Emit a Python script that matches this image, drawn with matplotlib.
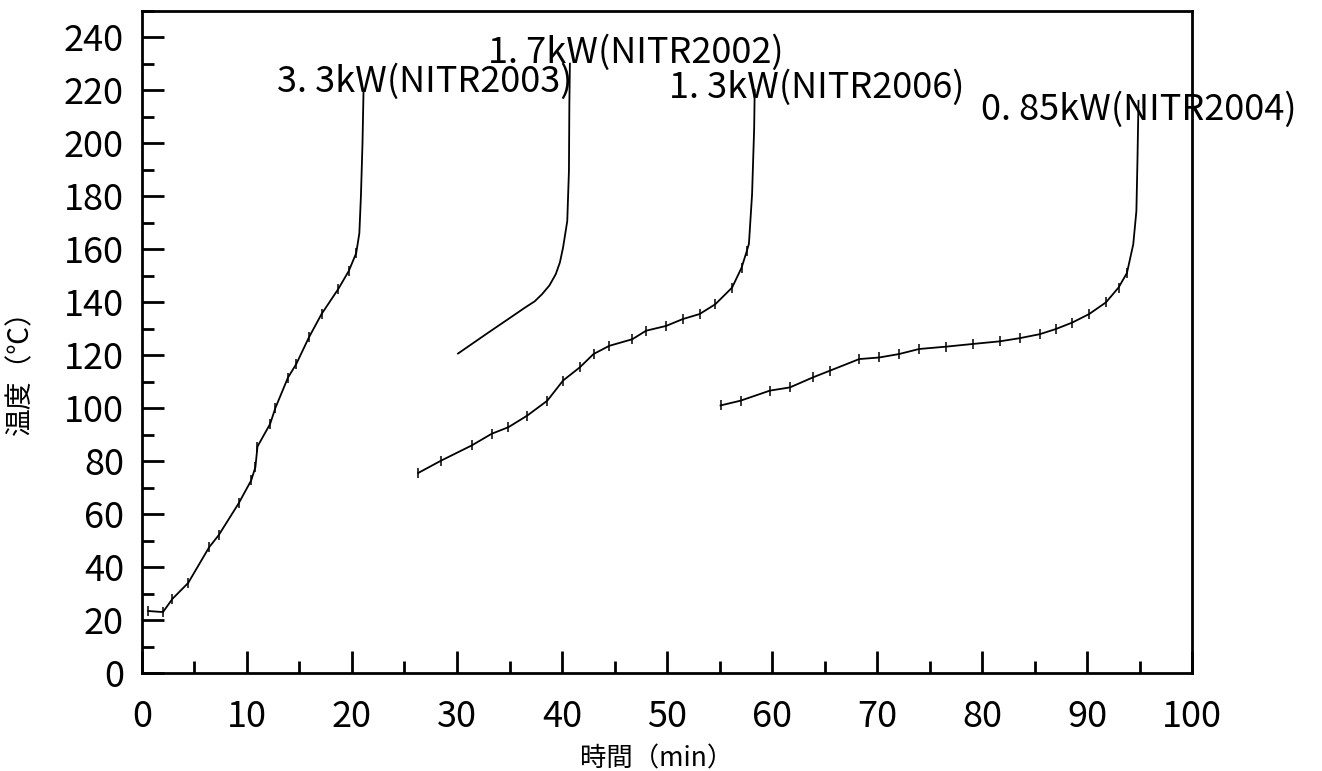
#!/usr/bin/env python3
"""Temperature rise curves for four heater powers."""
import matplotlib
matplotlib.use('Agg')
import matplotlib.pyplot as plt
from matplotlib.ticker import MultipleLocator

plt.rcParams['font.family'] = ['Noto Sans CJK JP', 'DejaVu Sans']

# 3.3 kW (NITR2003)
t33 = [0.6, 2.0, 2.9, 4.4, 6.4, 7.3, 9.2, 10.4, 10.8, 11.0, 12.2, 12.7, 13.9,
       14.7, 15.9, 17.1, 18.7, 19.7, 20.4, 20.7, 20.85, 21.0, 21.1]
T33 = [23.4, 23.0, 28.0, 34.0, 47.5, 52.0, 64.0, 72.7, 77.7, 85.5, 94.0, 100.0,
       111.5, 116.7, 126.7, 135.5, 145.0, 151.8, 158.5, 166.0, 180.0, 200.0, 220.0]

# 1.7 kW (NITR2002)
t17 = [30.1, 32.8, 35.1, 36.5, 37.4, 38.1, 38.8, 39.4, 39.8, 40.1, 40.5, 40.66, 40.7, 40.75]
T17 = [120.6, 128.0, 134.2, 138.0, 140.3, 143.0, 146.3, 150.5, 155.0, 160.6, 170.6,
       189.5, 214.6, 230.0]

# 1.3 kW (NITR2006)
t13 = [26.3, 28.5, 31.4, 33.3, 34.9, 36.7, 38.6, 40.1, 41.7, 43.0, 44.5, 46.7,
       48.0, 49.9, 51.5, 53.1, 54.6, 56.2, 57.1, 57.6, 57.8, 58.1, 58.3, 58.35]
T13 = [75.5, 80.2, 85.9, 90.3, 92.8, 97.2, 102.8, 110.4, 115.4, 120.4, 123.5,
       126.0, 129.2, 131.0, 133.6, 135.5, 139.2, 145.5, 153.0, 159.3, 162.0,
       180.7, 205.8, 220.0]

# 0.85 kW (NITR2004)
t085 = [55.1, 57.0, 59.8, 61.7, 63.9, 65.5, 68.3, 70.2, 72.1, 74.0, 76.6, 79.1,
        81.7, 83.6, 85.5, 87.0, 88.6, 90.2, 91.8, 93.0, 93.8, 94.4, 94.7, 94.8, 94.9]
T085 = [101.0, 102.8, 106.6, 107.8, 111.6, 114.1, 118.5, 119.1, 120.4, 122.3,
        123.2, 124.2, 125.2, 126.4, 127.9, 129.8, 132.3, 135.5, 139.9, 145.5,
        151.0, 161.8, 174.4, 193.2, 216.0]

labels = ['3. 3kW(NITR2003)', '1. 7kW(NITR2002)', '1. 3kW(NITR2006)', '0. 85kW(NITR2004)']

fig = plt.figure(figsize=(13.22, 7.71), dpi=100)
ax = fig.add_axes([0.1074, 0.1271, 0.7943, 0.859])

# noisy logged curves get small tick marks, vertical tails don't
for t, T, noisy in [(t33, T33, True), (t17, T17, False), (t13, T13, True), (t085, T085, True)]:
    if noisy:
        ax.plot(t, T, color='black', lw=1.3, marker='|', ms=7, mew=1.1,
                markevery=slice(0, len(t) - 4))
    else:
        ax.plot(t, T, color='black', lw=1.3)

# curve labels at the top ends
ax.text(26.9, 223, labels[0], ha='center', va='center', fontsize=26)
ax.text(47.0, 234.2, labels[1], ha='center', va='center', fontsize=26)
ax.text(64.3, 221, labels[2], ha='center', va='center', fontsize=26)
ax.text(94.9, 212.5, labels[3], ha='center', va='center', fontsize=26)

ax.set_xlim(0, 100)
ax.set_ylim(0, 250)
ax.xaxis.set_major_locator(MultipleLocator(10))
ax.xaxis.set_minor_locator(MultipleLocator(5))
ax.yaxis.set_minor_locator(MultipleLocator(10))
ax.set_yticks(range(0, 241, 20))

ax.tick_params(which='major', direction='in', length=16, width=2, labelsize=26)
ax.tick_params(which='minor', direction='in', length=8.5, width=2)
ax.tick_params(axis='y', which='major', pad=13)
ax.tick_params(axis='x', which='major', pad=19)
for s in ax.spines.values():
    s.set_linewidth(2)

ax.set_xlabel('時間（min）', fontsize=19)
ax.xaxis.set_label_coords(0.49, -0.11)
ax.set_ylabel('温度（℃）', fontsize=20)
ax.yaxis.set_label_coords(-0.102, 0.4635)

fig.savefig('out.png', dpi=100)
